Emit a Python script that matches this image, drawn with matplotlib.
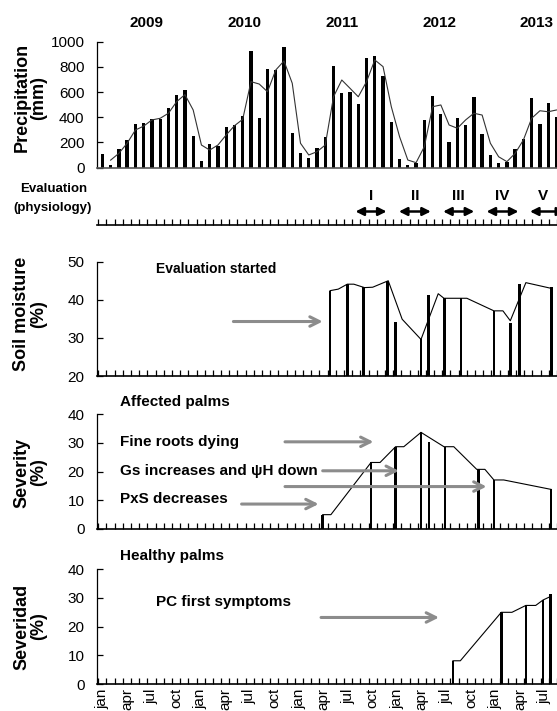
import numpy as np
import matplotlib
matplotlib.use('Agg')
import matplotlib.pyplot as plt

plt.rcParams['font.family'] = ['Liberation Sans', 'DejaVu Sans']

# monthly precipitation, jan 2009 .. aug 2013
precip = [110, 25, 150, 220, 350, 355, 390, 390, 475, 575, 620, 250,
          50, 190, 170, 325, 335, 410, 930, 395, 780, 775, 955, 275,
          115, 80, 155, 240, 805, 595, 600, 505, 870, 890, 725, 365,
          70, 25, 40, 380, 570, 425, 205, 395, 340, 560, 265, 100,
          40, 45, 150, 230, 555, 345, 515, 400]
# trend line (starts in feb 2009)
precip_trend = [60, 114, 194, 299, 330, 379, 392, 432, 524, 580, 458, 180,
                140, 180, 260, 333, 384, 683, 664, 603, 775, 847, 670, 194,
                101, 127, 180, 563, 696, 630, 563, 683, 855, 802, 484, 246,
                61, 40, 167, 484, 498, 339, 313, 379, 432, 418, 194, 87,
                48, 114, 220, 392, 452, 444, 458]
years = ['2009', '2010', '2011', '2012', '2013']
month_labels = ['jan', 'apr', 'jul', 'oct'] * 4 + ['jan', 'apr', 'jul']

# evaluation periods (month positions)
eval_names = ['I', 'II', 'III', 'IV', 'V']
eval_start = [30.9, 36.2, 41.6, 46.9, 52.2]
eval_end = [34.7, 40.1, 45.4, 50.8, 56.5]

# soil moisture
soil_x = [27.8, 29.9, 31.9, 34.8, 35.8, 38.9, 39.8, 41.8, 43.8, 47.8, 49.8, 50.9, 54.8]
soil_v = [42.3, 44.1, 43.3, 45.0, 34.2, 29.6, 41.3, 40.4, 40.4, 37.1, 34.0, 44.1, 43.3]
soil_line_x = [27.8, 28.8, 29.9, 30.7, 32.0, 33.0, 34.9, 36.6, 38.9, 41.0, 41.7,
               44.5, 47.8, 48.9, 49.8, 51.7, 54.8]
soil_line_v = [42.4, 42.8, 44.1, 44.1, 43.2, 43.3, 45.0, 34.9, 29.6, 41.6, 40.4,
               40.4, 37.1, 37.1, 34.5, 44.5, 43.0]

# severity, affected palms
sev_x = [26.9, 32.8, 35.8, 38.9, 39.9, 41.8, 45.9, 47.8, 54.8]
sev_v = [5.0, 23.2, 28.7, 33.7, 30.2, 28.7, 20.8, 17.1, 13.8]
sev_line_x = [26.9, 27.9, 32.8, 33.9, 35.8, 36.8, 38.9, 41.7, 42.9, 45.7, 46.7, 47.8, 49.0, 54.8]
sev_line_v = [5.0, 5.0, 23.2, 23.2, 28.7, 28.7, 33.7, 28.7, 28.7, 20.8, 20.8, 17.1, 17.1, 13.8]

# severity, healthy palms
hl_x = [42.8, 48.7, 51.7, 53.8, 54.7]
hl_v = [8.1, 25.0, 27.4, 29.3, 31.3]
hl_line_x = [42.8, 43.7, 48.7, 50.0, 51.7, 52.9, 53.8, 54.7]
hl_line_v = [8.1, 8.1, 25.0, 25.0, 27.4, 27.4, 29.3, 30.5]

W, H = 557, 711
fig = plt.figure(figsize=(W / 100, H / 100), dpi=100)


def rect(left, top, right, bottom):
    return [left / W, 1 - bottom / H, (right - left) / W, (bottom - top) / H]


XLIM = (-0.65, 55.07)
GREY = '#8c8c8c'
BOLD = dict(fontweight='bold', fontsize=11)


def base(ax, ylim, yticks, minor=True):
    ax.set_xlim(*XLIM)
    ax.set_ylim(*ylim)
    ax.set_yticks(yticks)
    for s in ['top', 'right']:
        ax.spines[s].set_visible(False)
    ax.spines['left'].set_linewidth(0.9)
    ax.spines['bottom'].set_linewidth(1.2)
    ax.tick_params(axis='y', direction='in', length=4, width=0.9, labelsize=11, pad=9)
    ax.set_xticks([])
    if minor:
        ax.set_xticks(np.arange(-0.5, 56, 1), minor=True)
        ax.tick_params(axis='x', which='minor', direction='in', length=4, width=0.9)


def ylab(text, yc):
    fig.text(30 / W, 1 - yc / H, text, rotation=90, ha='center', va='center',
             fontweight='bold', fontsize=13, linespacing=0.95, multialignment='center')


def grey_arrow(ax, x0, x1, y):
    ax.annotate('', xy=(x1, y), xytext=(x0, y),
                arrowprops=dict(arrowstyle='->', color=GREY, lw=2.2, mutation_scale=17,
                                shrinkA=0, shrinkB=0))


months = np.arange(len(precip))

# precipitation
ax_p = fig.add_axes(rect(97, 41.7, 557, 167.7))
base(ax_p, (0, 1000), [0, 200, 400, 600, 800, 1000], minor=False)
ax_p.spines['bottom'].set_color('#555555')
ax_p.bar(months, precip, width=0.4, color='black')
ax_p.plot(months[1:], precip_trend, color='#333333', lw=0.8)
for i, y in enumerate(years):
    ax_p.text(5.4 + 11.8 * i, 1148, y, ha='center', va='center', fontweight='bold',
              fontsize=11, clip_on=False)
ylab('Precipitation\n(mm)', 97.5)

# evaluation periods
ax_e = fig.add_axes(rect(97, 180, 557, 225))
base(ax_e, (0, 1), [])
ax_e.spines['left'].set_visible(False)
for name, a, b in zip(eval_names, eval_start, eval_end):
    ax_e.text((a + b) / 2 if name != 'V' else 53.8, 0.64, name, ha='center',
              va='center', fontweight='bold', fontsize=11)
    ax_e.annotate('', xy=(a, 0.3), xytext=(b, 0.3),
                  arrowprops=dict(arrowstyle='<|-|>', color='black', lw=1.8,
                                  mutation_scale=12, shrinkA=0, shrinkB=0),
                  annotation_clip=False)
fig.text(54 / W, 1 - 188.5 / H, 'Evaluation', ha='center', va='center',
         fontweight='bold', fontsize=9.5)
fig.text(53 / W, 1 - 208 / H, '(physiology)', ha='center', va='center',
         fontweight='bold', fontsize=9.5)

# soil moisture
ax_s = fig.add_axes(rect(97, 261.7, 557, 376))
base(ax_s, (20, 50), [20, 30, 40, 50])
ax_s.bar(soil_x, np.array(soil_v) - 20, bottom=20, width=0.32, color='black')
ax_s.plot(soil_line_x, soil_line_v, color='black', lw=0.8)
ax_s.text(6.5, 48.1, 'Evaluation started', va='center', fontweight='bold', fontsize=10)
grey_arrow(ax_s, 16.0, 26.9, 34.3)
ylab('Soil moisture\n(%)', 314)

# severity, affected palms
ax_v = fig.add_axes(rect(97, 414.3, 557, 529))
base(ax_v, (0, 40), [0, 10, 20, 30, 40])
ax_v.bar(sev_x, sev_v, width=0.3, color='black')
ax_v.plot(sev_line_x, sev_line_v, color='black', lw=0.8)
ax_v.text(2.2, 44.4, 'Affected palms', va='center', clip_on=False, **BOLD)
ax_v.text(2.2, 30.4, 'Fine roots dying', va='center', **BOLD)
ax_v.text(2.2, 20.1, 'Gs increases and ψH down', va='center', **BOLD)
ax_v.text(2.2, 10.3, 'PxS decreases', va='center', **BOLD)
for x0, x1, yv in [(22.3, 33.1, 30.4), (26.9, 36.2, 20.3), (22.3, 46.9, 14.8), (17.0, 26.4, 8.7)]:
    grey_arrow(ax_v, x0, x1, yv)
ylab('Severity\n(%)', 472.5)

# severity, healthy palms
ax_h = fig.add_axes(rect(97, 569.3, 557, 684))
base(ax_h, (0, 40), [0, 10, 20, 30, 40])
ax_h.bar(hl_x, hl_v, width=0.3, color='black')
ax_h.plot(hl_line_x, hl_line_v, color='black', lw=0.8)
ax_h.text(2.2, 44.6, 'Healthy palms', va='center', clip_on=False, **BOLD)
ax_h.text(6.5, 28.7, 'PC first symptoms', va='center', **BOLD)
grey_arrow(ax_h, 26.7, 41.1, 23.2)
ax_h.set_xticks(np.arange(0, 55, 3))
ax_h.set_xticklabels(month_labels, rotation=90, fontsize=11)
ax_h.tick_params(axis='x', which='major', length=0, pad=3)
ylab('Severidad\n(%)', 626.5)

fig.savefig('out.png', dpi=100)
